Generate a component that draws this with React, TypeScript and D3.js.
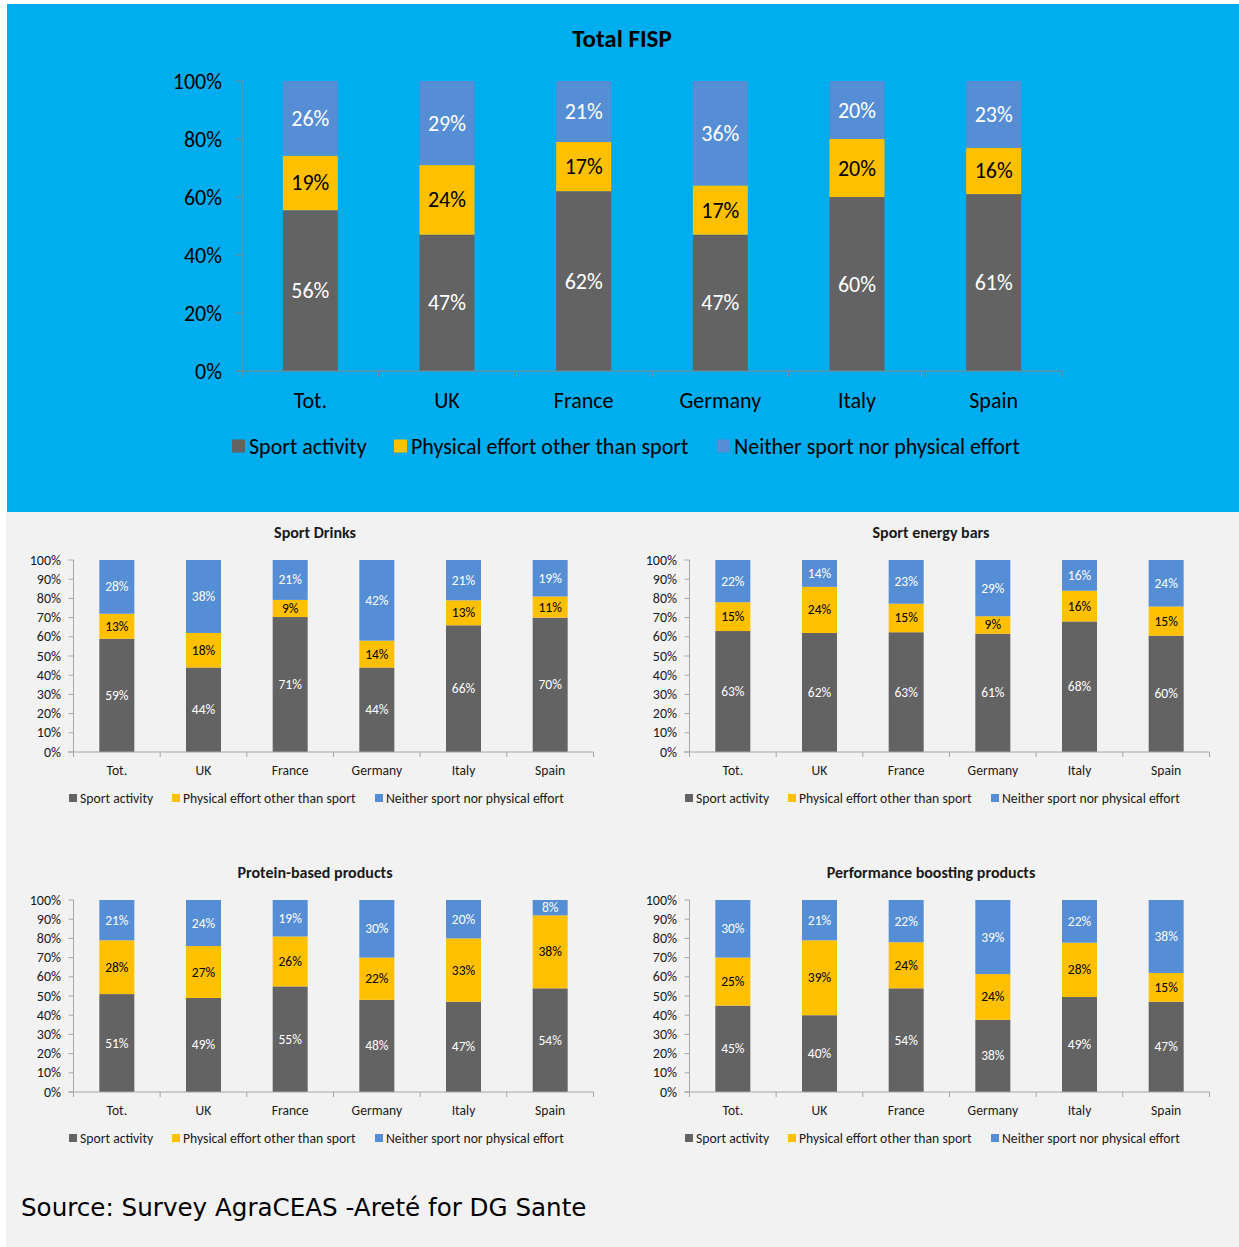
import React from "react";
import * as d3 from "d3";

const categories = ["Tot.", "UK", "France", "Germany", "Italy", "Spain"];
const seriesNames = ["Sport activity", "Physical effort other than sport", "Neither sport nor physical effort"];
const seriesColors = ["#636363", "#FFC000", "#558ED5"];
const labelColors = ["#ffffff", "#000000", "#ffffff"];
const tickValuesTop = [0, 0.2, 0.4, 0.6, 0.8, 1];
const tickValuesSmall = [0, 0.1, 0.2, 0.3, 0.4, 0.5, 0.6, 0.7, 0.8, 0.9, 1];

// Total FISP
const totalSport = [56, 47, 62, 47, 60, 61];
const totalPhysical = [19, 24, 17, 17, 20, 16];
const totalNeither = [26, 29, 21, 36, 20, 23];

// Sport Drinks
const drinksSport = [59, 44, 71, 44, 66, 70];
const drinksPhysical = [13, 18, 9, 14, 13, 11];
const drinksNeither = [28, 38, 21, 42, 21, 19];

// Sport energy bars
const barsSport = [63, 62, 63, 61, 68, 60];
const barsPhysical = [15, 24, 15, 9, 16, 15];
const barsNeither = [22, 14, 23, 29, 16, 24];

// Protein-based products
const proteinSport = [51, 49, 55, 48, 47, 54];
const proteinPhysical = [28, 27, 26, 22, 33, 38];
const proteinNeither = [21, 24, 19, 30, 20, 8];

// Performance boosting products
const perfSport = [45, 40, 54, 38, 49, 47];
const perfPhysical = [25, 39, 24, 24, 28, 15];
const perfNeither = [30, 21, 22, 39, 22, 38];

const FONT = "Carlito, Calibri, Lato, sans-serif";

type Cfg = {
  left: number; right: number; top: number; bottom: number; barW: number;
  ticks: number[]; tickFs: number; tickOff: number; tickLen: number;
  catY: number; catFs: number; labelFs: number;
  title: string; titleX: number; titleY: number; titleFs: number;
  legendY: number; legendXs: number[]; sq: number; legFs: number; legGap: number;
  axisColor: string; textColor: string;
};

function StackChart({ cfg, sport, physical, neither }: { cfg: Cfg; sport: number[]; physical: number[]; neither: number[] }) {
  const rows = categories.map((c, i) => ({ cat: c, a: sport[i], b: physical[i], c: neither[i] }));
  const keys = ["a", "b", "c"];
  const raw = [sport, physical, neither];
  const stacked = d3.stack<any>().keys(keys).offset(d3.stackOffsetExpand)(rows);
  const x = d3.scaleBand().domain(categories).range([cfg.left, cfg.right]);
  const y = d3.scaleLinear().domain([0, 1]).range([cfg.bottom, cfg.top]);
  const fmt = d3.format(".0%");
  const bw = x.bandwidth();
  const boundaries = d3.range(categories.length + 1).map((i) => cfg.left + i * bw);
  return (
    <g fontFamily={FONT}>
      <text x={cfg.titleX} y={cfg.titleY} textAnchor="middle" dominantBaseline="central" fontWeight="bold" fontSize={cfg.titleFs} fill={cfg.textColor}>{cfg.title}</text>
      <line x1={cfg.left} x2={cfg.left} y1={cfg.top} y2={cfg.bottom} stroke={cfg.axisColor} strokeWidth={1} />
      {cfg.ticks.map((t) => (
        <g key={t}>
          <line x1={cfg.left - cfg.tickLen} x2={cfg.left} y1={y(t)} y2={y(t)} stroke={cfg.axisColor} />
          <text x={cfg.left - cfg.tickOff} y={y(t)} textAnchor="end" dominantBaseline="central" fontSize={cfg.tickFs} fill={cfg.textColor}>{fmt(t)}</text>
        </g>
      ))}
      {stacked.map((s, si) => (
        <g key={si}>
          {s.map((d, i) => {
            const cx = (x(categories[i]) as number) + bw / 2;
            const y0 = y(d[0]); const y1 = y(d[1]);
            return (
              <g key={i}>
                <rect x={cx - cfg.barW / 2} y={y1} width={cfg.barW} height={y0 - y1} fill={seriesColors[si]} />
                <text x={cx} y={(y0 + y1) / 2} textAnchor="middle" dominantBaseline="central" fontSize={cfg.labelFs} fill={labelColors[si]}>{raw[si][i]}%</text>
              </g>
            );
          })}
        </g>
      ))}
      <line x1={cfg.left - cfg.tickLen} x2={cfg.right} y1={cfg.bottom} y2={cfg.bottom} stroke={cfg.axisColor} />
      {boundaries.map((b, i) => (
        <line key={i} x1={b} x2={b} y1={cfg.bottom} y2={cfg.bottom + cfg.tickLen} stroke={cfg.axisColor} />
      ))}
      {categories.map((c) => (
        <text key={c} x={(x(c) as number) + bw / 2} y={cfg.catY} textAnchor="middle" dominantBaseline="central" fontSize={cfg.catFs} fill={cfg.textColor}>{c}</text>
      ))}
      {seriesNames.map((n, i) => (
        <g key={n}>
          <rect x={cfg.legendXs[i]} y={cfg.legendY - cfg.sq / 2} width={cfg.sq} height={cfg.sq} fill={seriesColors[i]} />
          <text x={cfg.legendXs[i] + cfg.sq + cfg.legGap} y={cfg.legendY} dominantBaseline="central" fontSize={cfg.legFs} fill={cfg.textColor}>{n}</text>
        </g>
      ))}
    </g>
  );
}

const topCfg: Cfg = {
  left: 242, right: 1062, top: 81, bottom: 371, barW: 55,
  ticks: tickValuesTop, tickFs: 22, tickOff: 20, tickLen: 6,
  catY: 400, catFs: 22, labelFs: 22,
  title: "Total FISP", titleX: 622, titleY: 38, titleFs: 25,
  legendY: 446, legendXs: [232, 394, 717], sq: 13, legFs: 22, legGap: 4,
  axisColor: "#868686", textColor: "#000000",
};

function smallCfg(title: string, dx: number, dy: number): Cfg {
  return {
    left: 73.5 + dx, right: 593.5 + dx, top: 560 + dy, bottom: 752 + dy, barW: 35,
    ticks: tickValuesSmall, tickFs: 14, tickOff: 12.5, tickLen: 5,
    catY: 770 + dy, catFs: 13.6, labelFs: 13.5,
    title, titleX: 315 + dx, titleY: 532 + dy, titleFs: 16,
    legendY: 798 + dy, legendXs: [69 + dx, 172 + dx, 375 + dx], sq: 8, legFs: 13.7, legGap: 3,
    axisColor: "#a6a6a6", textColor: "#1a1a1a",
  };
}

export default function App() {
  return (
    <div style={{ position: "absolute", left: 0, top: 0 }}>
      <svg width={1239} height={1247} style={{ display: "block" }}>
        <rect x={0} y={0} width={1239} height={1247} fill="#ffffff" />
        <rect x={6} y={512} width={1233} height={735} fill="#f2f2f2" />
        <rect x={7} y={4} width={1232} height={508} fill="#00AEEF" />
        <StackChart cfg={topCfg} sport={totalSport} physical={totalPhysical} neither={totalNeither} />
        <StackChart cfg={smallCfg("Sport Drinks", 0, 0)} sport={drinksSport} physical={drinksPhysical} neither={drinksNeither} />
        <StackChart cfg={smallCfg("Sport energy bars", 616, 0)} sport={barsSport} physical={barsPhysical} neither={barsNeither} />
        <StackChart cfg={smallCfg("Protein-based products", 0, 340)} sport={proteinSport} physical={proteinPhysical} neither={proteinNeither} />
        <StackChart cfg={smallCfg("Performance boosting products", 616, 340)} sport={perfSport} physical={perfPhysical} neither={perfNeither} />
        <text x={21} y={1207} dominantBaseline="central" fontFamily="'DejaVu Sans', Verdana, sans-serif" fontSize={24.6} fill="#000">Source: Survey AgraCEAS -Areté for DG Sante</text>
      </svg>
    </div>
  );
}
